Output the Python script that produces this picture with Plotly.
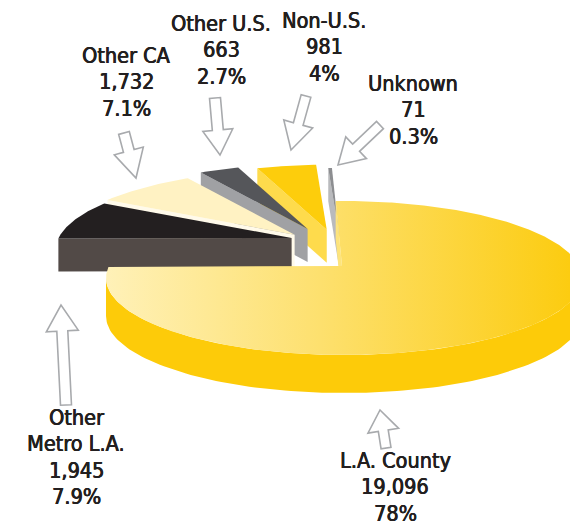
import numpy as np
import plotly.graph_objects as go

# ---------------- data ----------------
categories = ["L.A. County", "Other Metro L.A.", "Other CA", "Other U.S.", "Non-U.S.", "Unknown"]
label_lines = [["L.A. County"], ["Other", "Metro L.A."], ["Other CA"], ["Other U.S."], ["Non-U.S."], ["Unknown"]]
counts = [19096, 1945, 1732, 663, 981, 71]
percents = [78, 7.9, 7.1, 2.7, 4, 0.3]

# ---------------- style ----------------
W, H = 578, 527
CX, CY, RX, RY = 336, 270, 238, 77
DEPTH = 38
SMALL_DEPTH = 33
APEX_DX, APEX_DY = -2, -12
START = 92.0  # degrees, slices run clockwise from here
pulls = [0, 0.23, 0.31, 0.38, 0.36, 0.3]
lifts = [0, 21, 13, 10, 9, 10]
top_colors = ["#fdd64a", "#231f20", "#fff2c3", "#55565a", "#fdcd0c", "#8d8e91"]
face_colors = ["#fde47c", "#524a47", "#fffaea", "#a0a1a4", "#fedb4c", "#b9babd"]
wall_color = "#fdcb09"
la_gradient = [[0, "#fff1b8"], [0.45, "#fde06e"], [1, "#fccb0c"]]
text_color = "#231f20"
FONT = "Liberation Sans Narrow, DejaVu Sans Condensed, Arial Narrow, sans-serif"
FONT_SIZE = 21.5
LINE_STEP = 26.5
label_pos = [(387, 452), (68, 409), (118, 47), (213, 15), (316, 12), (405, 75)]  # first-line anchors
# arrows: (tail, tip, shaft width, head width, head length)
arrows = [((378, 440), (372, 402), 10, 31, 21),
          ((58, 397), (53, 297), 11, 32, 26),
          ((116, 125), (128, 170), 11, 30, 28),
          ((207, 90), (212, 147), 11, 30, 25),
          ((298, 88), (283, 142), 10, 30, 27),
          ((372, 117), (330, 157), 10, 30, 25)]
arrow_color = "#a8aaad"

# ---------------- geometry helpers ----------------
def rim(t, off=(0, 0), dz=0):
    r = np.radians(t)
    return CX + RX * np.cos(r) + off[0], CY - RY * np.sin(r) + off[1] + dz

def poly(xs, ys, color=None, gradient=None):
    kw = dict(x=list(xs) + [xs[0]], y=list(ys) + [ys[0]], mode="lines", fill="toself",
              line=dict(width=0, color="rgba(0,0,0,0)"), hoverinfo="skip", showlegend=False)
    if gradient is not None:
        kw["fillgradient"] = dict(type="horizontal", colorscale=gradient)
    else:
        kw["fillcolor"] = color
    return go.Scatter(**kw)

total = float(sum(counts))
fracs = [c / total for c in counts]
slices = []
cum = 0.0
for i, f in enumerate(fracs):
    t2 = START - cum * 360
    t1 = t2 - f * 360
    cum += f
    mid = np.radians((t1 + t2) / 2)
    off = (pulls[i] * RX * np.cos(mid), -pulls[i] * RY * np.sin(mid) - lifts[i])
    slices.append((i, t1, t2, off))

fig = go.Figure()

# draw back (small, pulled) slices first from the back, L.A. County last
order = [5, 4, 3, 2, 1, 0]
for i in order:
    _, t1, t2, off = slices[i]
    depth = DEPTH if i == 0 else SMALL_DEPTH
    ax, ay = CX + APEX_DX + off[0], CY + APEX_DY + off[1]
    # outer wall (front half of the rim)
    for k in (-1, 0, 1):
        lo, hi = max(t1, -180 + 360 * k), min(t2, 0 + 360 * k)
        if hi > lo:
            ts = np.linspace(lo, hi, 120)
            tx, ty = rim(ts, off)
            bx, by = rim(ts[::-1], off, depth)
            fig.add_trace(poly(np.r_[tx, bx], np.r_[ty, by], wall_color))
    # cut faces
    for t, vis in ((t2, np.cos(np.radians(t2)) < 0), (t1, np.cos(np.radians(t1)) > 0)):
        if vis:
            px, py = rim(t, off)
            fig.add_trace(poly([ax, px, px, ax], [ay, py, py + depth, ay + depth], face_colors[i]))
    # top face
    ts = np.linspace(t1, t2, max(8, int((t2 - t1) * 2)))
    tx, ty = rim(ts, off)
    if i == 0:
        fig.add_trace(poly(np.r_[ax, tx], np.r_[ay, ty], gradient=la_gradient))
    else:
        fig.add_trace(poly(np.r_[ax, tx], np.r_[ay, ty], top_colors[i]))

# ---------------- arrows ----------------
shapes = []
for (tail, tip, w, hw, hl) in arrows:
    T = np.array(tail, float); P = np.array(tip, float)
    u = (P - T) / np.linalg.norm(P - T)
    n = np.array([-u[1], u[0]])
    B = P - u * hl
    pts = [T + n * w / 2, B + n * w / 2, B + n * hw / 2, P, B - n * hw / 2, B - n * w / 2, T - n * w / 2]
    path = "M " + " L ".join(f"{p[0]:.2f},{p[1]:.2f}" for p in pts) + " Z"
    shapes.append(dict(type="path", path=path, xref="x", yref="y", fillcolor="white",
                       line=dict(color=arrow_color, width=1.6), layer="above"))

# ---------------- labels ----------------
annotations = []
for lines, c, p, (lx, ly) in zip(label_lines, counts, percents, label_pos):
    texts = list(lines) + [f"{c:,}", f"{p:g}%"]
    for j, txt in enumerate(texts):
        annotations.append(dict(x=lx, y=ly + j * LINE_STEP, xref="x", yref="y", showarrow=False,
                                text=txt, align="center", xanchor="center", yanchor="middle",
                                borderpad=0,
                                font=dict(family=FONT, size=FONT_SIZE, color=text_color,
                                          shadow="0.45px 0 0 #231f20, -0.2px 0 0 #231f20")))

fig.update_layout(width=W, height=H, margin=dict(l=0, r=0, t=0, b=0),
                  paper_bgcolor="white", plot_bgcolor="white",
                  xaxis=dict(range=[0, W], visible=False, fixedrange=True),
                  yaxis=dict(range=[H, 0], visible=False, fixedrange=True),
                  shapes=shapes, annotations=annotations, showlegend=False)
fig.write_html("out.html")
